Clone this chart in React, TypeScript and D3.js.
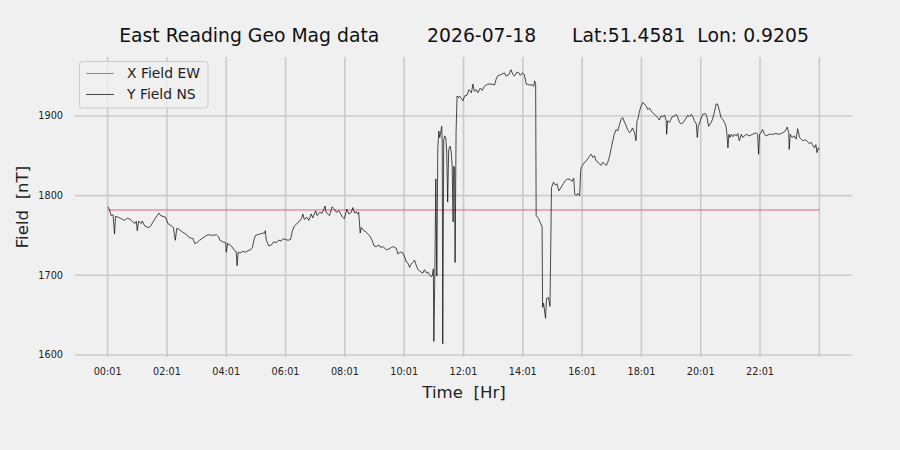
import * as d3 from "d3";

// Minutes after 00:01 and Y field readings (nT)
const minutes = [
  1, 4, 7, 11, 14, 16, 21, 28, 34, 41, 48, 51, 55, 58, 60, 63, 68, 70, 75, 82, 86, 92, 98, 104, 107, 112, 117, 122, 129, 133, 137, 140, 146, 152, 158, 162, 167, 173, 176, 181, 186, 193, 200, 206, 213, 220, 225,
  227, 233, 239, 240, 243, 250, 257, 260, 262, 264, 268, 274, 279, 284, 289, 293, 296, 299, 304, 309, 314, 318, 319, 321, 326, 331, 336, 341, 346, 351, 355, 360, 365, 370, 374, 378, 383, 387, 392, 395, 398, 403, 407, 412, 415, 421, 424, 429, 434, 440, 442, 449, 454, 459, 463, 468,
  475, 479, 484, 488, 493, 496, 500, 503, 506, 508, 511, 513, 518, 522, 526, 531, 535, 539, 543, 549, 552, 557, 564, 569, 574, 578, 584, 587, 592, 596, 601, 604, 607, 611, 614, 617, 621, 624, 628, 631, 634, 638, 641, 645, 648, 651, 655, 657, 659, 660, 662, 664, 666, 668, 670, 672, 674, 676, 677, 678, 680, 682, 684, 686, 688, 690, 693, 695, 697, 699, 700, 702, 703, 705, 707, 710,
  712, 719, 722, 727, 731, 736, 739, 742, 746, 749, 754, 758, 762, 769, 776, 783, 786, 789, 796, 803, 806, 812, 816, 820, 823, 828, 832, 835, 839, 843, 847, 853, 859, 862, 864, 866, 867, 872, 876, 879, 880, 882, 886, 888, 892, 895, 898, 902, 906, 909, 913, 918, 922, 926, 931, 936, 940, 943, 945, 948, 951, 955, 957,
  958, 961, 965, 969, 973, 978, 982, 985, 988, 992, 995, 998, 1002, 1005, 1009, 1012, 1015, 1019, 1022, 1025, 1029, 1032, 1036, 1039, 1042, 1046, 1049, 1052, 1056, 1059, 1062, 1066, 1069, 1071, 1073, 1076, 1079, 1083, 1086, 1090, 1093, 1096, 1100, 1103, 1108, 1113, 1116, 1120, 1123, 1127, 1130, 1131, 1133, 1137, 1142, 1147, 1150, 1153, 1157, 1160, 1165, 1169, 1174, 1177, 1181, 1184, 1187, 1191, 1193, 1195, 1199,
  1204, 1209, 1212, 1216, 1221, 1224, 1228, 1231, 1234, 1238, 1241, 1244, 1248, 1251, 1253, 1255, 1257, 1259, 1262, 1265, 1268, 1272, 1275, 1278, 1282, 1285, 1288, 1292, 1298, 1305, 1312, 1315, 1317, 1319, 1322, 1325, 1329, 1332, 1339, 1346, 1352, 1359, 1366, 1371, 1375, 1378, 1379, 1381, 1385, 1389, 1393, 1396, 1400, 1403, 1406, 1412, 1416, 1420, 1423, 1426, 1430, 1433, 1435, 1438, 1440,
];

const yField = [
  1786, 1782, 1775, 1776, 1752, 1774, 1773, 1771, 1769, 1772, 1769, 1767, 1765, 1768, 1756, 1768, 1765, 1768, 1762, 1760, 1761, 1767, 1773, 1778, 1775, 1774, 1773, 1765, 1762, 1760, 1744, 1759, 1757, 1754, 1752, 1749, 1747, 1746, 1740, 1741, 1744, 1747, 1750, 1751, 1750, 1751, 1748,
  1744, 1742, 1741, 1729, 1740, 1737, 1731, 1730, 1712, 1729, 1728, 1730, 1729, 1731, 1732, 1735, 1744, 1750, 1751, 1752, 1753, 1753, 1756, 1744, 1737, 1738, 1742, 1741, 1744, 1743, 1746, 1745, 1744, 1745, 1756, 1762, 1765, 1767, 1771, 1777, 1770, 1773, 1769, 1777, 1772, 1781, 1775, 1779, 1778, 1787, 1779, 1775, 1786, 1783, 1779, 1781,
  1773, 1771, 1783, 1777, 1779, 1785, 1778, 1780, 1777, 1779, 1753, 1760, 1756, 1755, 1752, 1749, 1744, 1737, 1736, 1738, 1735, 1736, 1732, 1733, 1735, 1736, 1734, 1727, 1729, 1729, 1723, 1717, 1716, 1710, 1714, 1716, 1719, 1713, 1707, 1706, 1704, 1703, 1707, 1703, 1704, 1701, 1698, 1700, 1708, 1617, 1700, 1821, 1699, 1860, 1881, 1873, 1880, 1887, 1866, 1614, 1870, 1875, 1873, 1856, 1792, 1858, 1862, 1855, 1838, 1767, 1837, 1835, 1716, 1880, 1925, 1923,
  1925, 1919, 1925, 1926, 1933, 1929, 1940, 1931, 1933, 1929, 1935, 1932, 1937, 1940, 1940, 1939, 1946, 1950, 1952, 1954, 1950, 1952, 1958, 1952, 1950, 1955, 1954, 1951, 1954, 1952, 1940, 1939, 1939, 1937, 1944, 1938, 1775, 1771, 1765, 1761, 1660, 1665, 1646, 1671, 1672, 1661, 1810, 1817, 1813, 1815, 1806, 1811, 1815, 1819, 1821, 1820, 1818, 1822, 1802, 1800, 1803, 1800, 1831,
  1835, 1838, 1842, 1844, 1848, 1852, 1848, 1850, 1844, 1842, 1840, 1838, 1842, 1840, 1838, 1842, 1848, 1860, 1869, 1877, 1883, 1881, 1890, 1896, 1898, 1892, 1888, 1883, 1879, 1881, 1885, 1879, 1869, 1894, 1896, 1906, 1912, 1917, 1915, 1912, 1908, 1910, 1906, 1904, 1901, 1898, 1895, 1900, 1899, 1901, 1894, 1877, 1894, 1892, 1899, 1900, 1902, 1899, 1892, 1890, 1892, 1896, 1901, 1899, 1902, 1899, 1894, 1890, 1873, 1887, 1894,
  1902, 1903, 1900, 1887, 1892, 1896, 1906, 1915, 1915, 1906, 1898, 1896, 1892, 1887, 1877, 1860, 1877, 1873, 1877, 1874, 1877, 1875, 1878, 1869, 1877, 1873, 1875, 1877, 1875, 1877, 1879, 1877, 1852, 1877, 1879, 1883, 1877, 1875, 1877, 1877, 1878, 1877, 1879, 1881, 1886, 1879, 1858, 1877, 1873, 1875, 1871, 1884, 1873, 1871, 1869, 1870, 1868, 1865, 1867, 1864, 1860, 1864, 1854, 1860, 1858,
];

// X field is flat over the whole day
const xFieldMinutes = [0, 1440];
const xField = [1782, 1782];

const xTickMinutes = [0, 120, 240, 360, 480, 600, 720, 840, 960, 1080, 1200, 1320, 1440];
const xTickLabels = ["00:01", "02:01", "04:01", "06:01", "08:01", "10:01", "12:01", "14:01", "16:01", "18:01", "20:01", "22:01", ""];
const yTicks = [1600, 1700, 1800, 1900];

const W = 900;
const H = 450;
const FONT = "DejaVu Sans, sans-serif";
const BG = "#f0f0f0";
const GRID = "#cbcbcb";
const RED = "#d84545";

export default function App() {
  const x = d3.scaleLinear().domain([-66, 1506]).range([75, 852]);
  const y = d3.scaleLinear().domain([1600, 1974]).range([355, 57]);

  const line = d3
    .line<[number, number]>()
    .x((d) => x(d[0]))
    .y((d) => y(d[1]));

  const yPts = d3.zip(minutes, yField) as [number, number][];
  const xPts = d3.zip(xFieldMinutes, xField) as [number, number][];

  return (
    <svg
      width={W}
      height={H}
      style={{ position: "absolute", left: 0, top: 0, background: BG, fontFamily: FONT }}
    >
      <rect width={W} height={H} fill={BG} />

      {/* grid */}
      {yTicks.map((t) => (
        <line key={`gy${t}`} x1={75} x2={852} y1={y(t)} y2={y(t)} stroke={GRID} strokeWidth={1.6} />
      ))}
      {xTickMinutes.map((t) => (
        <line key={`gx${t}`} x1={x(t)} x2={x(t)} y1={57} y2={357} stroke={GRID} strokeWidth={1.6} />
      ))}

      {/* y tick labels */}
      {yTicks.map((t) => (
        <text key={`ty${t}`} x={63} y={y(t)} dy="0.35em" textAnchor="end" fontSize={9.7} fill="#222">
          {t}
        </text>
      ))}
      {/* x tick labels */}
      {xTickMinutes.map((t, i) => (
        <text key={`tx${t}`} x={x(t)} y={375} textAnchor="middle" fontSize={9.7} fill="#222">
          {xTickLabels[i]}
        </text>
      ))}

      {/* series */}
      <path d={line(xPts) ?? ""} fill="none" stroke={RED} strokeWidth={0.8} />
      <path d={line(yPts) ?? ""} fill="none" stroke="#000" strokeWidth={0.7} strokeLinejoin="round" />

      {/* axis labels */}
      <text x={464} y={398} textAnchor="middle" fontSize={16.6} fill="#222" style={{ whiteSpace: "pre" }}>
        {"Time  [Hr]"}
      </text>
      <text
        transform="translate(28,207) rotate(-90)"
        textAnchor="middle"
        fontSize={16.6}
        fill="#222"
        style={{ whiteSpace: "pre" }}
      >
        {"Field  [nT]"}
      </text>

      {/* title */}
      <text x={464} y={42} textAnchor="middle" fontSize={18.8} fill="#111" style={{ whiteSpace: "pre" }}>
        {"East Reading Geo Mag data        2026-07-18      Lat:51.4581  Lon: 0.9205"}
      </text>

      {/* legend */}
      <g>
        <rect x={79.5} y={61.5} width={128.5} height={46.5} rx={3} fill={BG} fillOpacity={0.8} stroke="#cccccc" strokeWidth={1} />
        <line x1={86} x2={114} y1={73.5} y2={73.5} stroke={RED} strokeWidth={0.8} />
        <text x={127} y={73.5} dy="0.35em" fontSize={13.9} fill="#222">
          X Field EW
        </text>
        <line x1={86} x2={114} y1={94.5} y2={94.5} stroke="#000" strokeWidth={0.7} />
        <text x={127} y={94.5} dy="0.35em" fontSize={13.9} fill="#222">
          Y Field NS
        </text>
      </g>
    </svg>
  );
}
